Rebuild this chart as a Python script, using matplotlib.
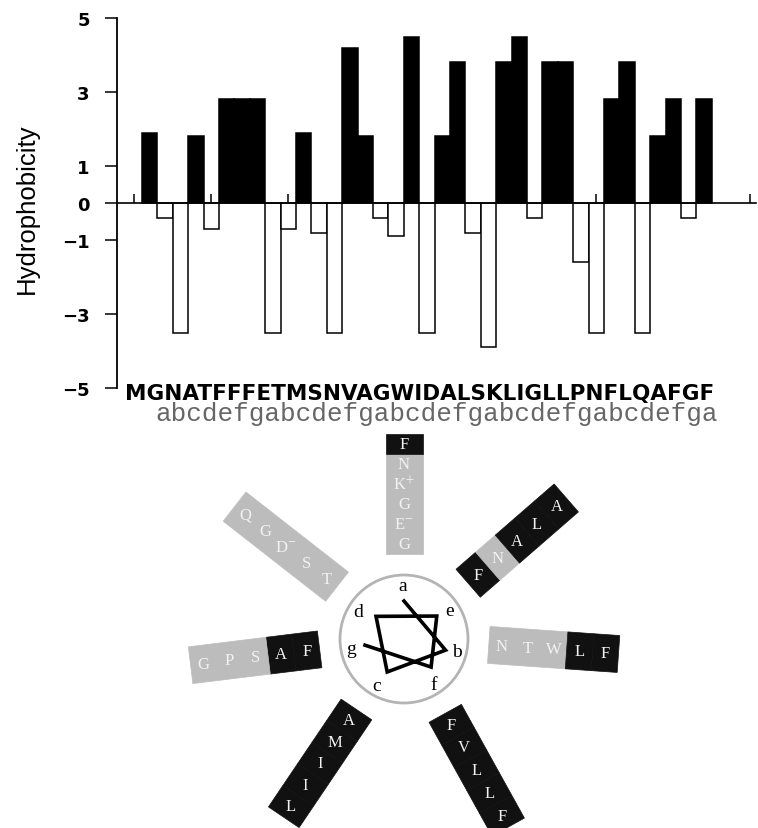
import numpy as np
import matplotlib
matplotlib.use("Agg")
import matplotlib.pyplot as plt
from matplotlib.patches import Polygon, Circle

plt.rcParams["mathtext.fontset"] = "stix"

# --- datos ---
secuencia = "MGNATFFFETMSNVAGWIDALSKLIGLLPNFLQAFGF"
registro = "abcdefg" * 5 + "a"   # heptada, empieza en el residuo 2 (G)
hidrofobicidad = [1.9, -0.4, -3.5, 1.8, -0.7, 2.8, 2.8, 2.8, -3.5, -0.7,
                  1.9, -0.8, -3.5, 4.2, 1.8, -0.4, -0.9, 4.5, -3.5, 1.8,
                  3.8, -0.8, -3.9, 3.8, 4.5, -0.4, 3.8, 3.8, -1.6, -3.5,
                  2.8, 3.8, -3.5, 1.8, 2.8, -0.4, 2.8]
posiciones = np.arange(1, len(hidrofobicidad) + 1)
yticks = [-5, -3, -1, 0, 1, 3, 5]
xticks = list(range(0, 41, 5))

hidrofobos = set("AFILMV")
cargas = {"K": "+", "R": "+", "D": "-", "E": "-"}
letras_rueda = list("abcdefg")

# --- geometria de la rueda (en pixeles, centro = circulo) ---
ang_brazo = {"a": 90, "b": -4, "c": -124, "d": 142, "e": 41, "f": -61, "g": 187}
ang_etiqueta = [91, -13, -120, 149, 32, -57, -170]
ang_helice = [90, -15, -117, 141, 35, -46, -171]
r_helice = [38, 43, 37, 36, 40, 39, 39.5]

fig = plt.figure(figsize=(7.58, 8.29), dpi=100)

# =========== grafico de barras ===========
ax = fig.add_axes([117 / 758, 1 - 389 / 829, (756 - 117) / 758, 370 / 829])
colores = ["black" if v > 0 else "white" for v in hidrofobicidad]
ax.bar(posiciones, hidrofobicidad, width=1.0, color=colores,
       edgecolor="black", linewidth=1.1, zorder=2)
ax.set_xlim(-1.12, 40.37)
ax.set_ylim(-5, 5)
for s in ["top", "right"]:
    ax.spines[s].set_visible(False)
ax.spines["bottom"].set_position(("data", 0))
ax.spines["bottom"].set_linewidth(1.2)
ax.spines["left"].set_linewidth(1.3)
ax.set_xticks(xticks)
ax.tick_params(axis="x", direction="in", length=6.5, width=1.1, labelbottom=False)
ax.set_yticks(yticks)
ax.set_yticklabels([str(t).replace("-", "\u2212") for t in yticks])
ax.tick_params(axis="y", length=8.6, width=1.1, pad=11, labelsize=13)
for lab in ax.get_yticklabels():
    lab.set_fontweight("bold")
    lab.set_family("DejaVu Sans")

fig.text(27 / 758, 1 - 209 / 829, "Hydrophobicity", rotation=90,
         ha="center", va="center", fontsize=18.5, family="Liberation Sans")

fig.text(125 / 758, 1 - 400 / 829, secuencia, fontsize=15.5,
         fontweight="bold", family="DejaVu Sans", va="baseline")
fig.text(155 / 758, 1 - 421 / 829, registro, fontsize=18.7,
         family="Liberation Mono", color="#666666", va="baseline")

# =========== rueda helicoidal ===========
wax = fig.add_axes([0, 0, 1, 399 / 829])
wax.set_xlim(-404, 354)
wax.set_ylim(-189, 210)
wax.axis("off")

wax.add_patch(Circle((0, 0), 64, facecolor="none", edgecolor="#b4b4b4", lw=2.0))

hx = [r * np.cos(np.radians(a)) for r, a in zip(r_helice, ang_helice)]
hy = [r * np.sin(np.radians(a)) for r, a in zip(r_helice, ang_helice)]
wax.plot(hx, hy, color="black", lw=2.6, solid_joinstyle="miter")

for letra, ang in zip(letras_rueda, ang_etiqueta):
    t = np.radians(ang)
    wax.text(54 * np.cos(t), 54 * np.sin(t), letra, ha="center", va="center",
             fontsize=14, family="Liberation Serif")

# la Met inicial no tiene posicion en la heptada
r0, ancho = 85, 37
for pos in letras_rueda:
    residuos = [secuencia[i + 1] for i in range(len(registro)) if registro[i] == pos]
    n = len(residuos)
    celda = 26 if n <= 5 else 20
    t = np.radians(ang_brazo[pos])
    u = np.array([np.cos(t), np.sin(t)])
    nv = np.array([-np.sin(t), np.cos(t)])
    h = ancho / 2
    for k, res in enumerate(residuos):
        ri = r0 + k * celda
        ro = ri + celda
        esquinas = [ri * u + h * nv, ro * u + h * nv, ro * u - h * nv, ri * u - h * nv]
        col = "#111111" if res in hidrofobos else "#bcbcbc"
        wax.add_patch(Polygon(esquinas, closed=True, facecolor=col,
                              edgecolor=col, lw=0.5))
        cx, cy = (ri + ro) / 2 * u
        etiqueta = res + "$^{%s}$" % cargas[res] if res in cargas else res
        wax.text(cx, cy, etiqueta, ha="center", va="center", fontsize=12,
                 family="Liberation Serif", color="#f2f2f2")

fig.savefig("out.png", dpi=100)
